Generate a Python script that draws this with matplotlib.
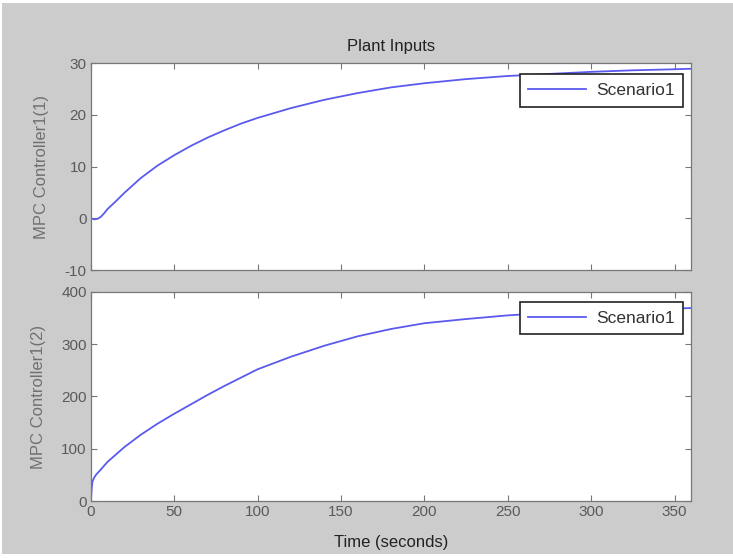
import matplotlib
matplotlib.use("Agg")
from matplotlib import pyplot as plt
from matplotlib.patches import Rectangle

# readings from the reference picture
t_top = [0, 2, 4, 6, 8, 10, 15, 20, 30, 40, 50, 60, 70, 80, 90, 100,
         120, 140, 160, 180, 200, 225, 250, 275, 300, 325, 350, 360]
u_top = [0, -0.2, -0.1, 0.3, 1.0, 1.8, 3.3, 4.9, 7.8, 10.2, 12.2, 14.0, 15.6, 17.0, 18.3, 19.4,
         21.3, 22.9, 24.2, 25.3, 26.1, 26.9, 27.5, 27.9, 28.3, 28.6, 28.8, 28.9]

t_bot = [0, 0.5, 1, 2, 3, 5, 10, 20, 30, 40, 50, 60, 70, 80, 90, 100,
         120, 140, 160, 180, 200, 225, 250, 275, 300, 325, 350, 360]
u_bot = [0, 25, 38, 45, 50, 57, 75, 103, 127, 148, 167, 185, 203, 220, 236, 252,
         276, 297, 315, 329, 340, 348, 355, 360, 364, 366, 368, 369]

x_ticks = [0, 50, 100, 150, 200, 250, 300, 350]
top_ticks = [-10, 0, 10, 20, 30]
bot_ticks = [0, 100, 200, 300, 400]

line_color = "#5a5aee"
gray_bg = "#cccccc"
tick_color = "#5a5a5a"

plt.rcParams['font.family'] = ['Liberation Sans', 'DejaVu Sans']
plt.rcParams['axes.unicode_minus'] = False

fig = plt.figure(figsize=(7.33, 5.58), dpi=100, facecolor="white")
# gray figure area with thin white margin like the screenshot
fig.patches.append(Rectangle((2 / 733, 4 / 558), 1 - 2 / 733, 1 - 7 / 558,
                             transform=fig.transFigure, facecolor=gray_bg,
                             edgecolor="none", zorder=-10))

ax1 = fig.add_axes([0.124, 0.516, 0.819, 0.371])
ax2 = fig.add_axes([0.124, 0.102, 0.819, 0.375])


def style_axes(ax, yticks, ylim):
    ax.set_facecolor("white")
    ax.set_xlim(0, 360)
    ax.set_ylim(*ylim)
    ax.set_xticks(x_ticks)
    ax.set_yticks(yticks)
    ax.tick_params(direction="in", top=True, right=True, length=4,
                   width=0.8, colors="#777777", labelcolor=tick_color,
                   labelsize=11, pad=3)
    for s in ax.spines.values():
        s.set_color("#777777")
        s.set_linewidth(0.9)


ax1.plot(t_top, u_top, color=line_color, lw=1.3, label="Scenario1")
style_axes(ax1, top_ticks, (-10, 30))
ax1.tick_params(labelbottom=False)
ax1.set_ylabel("MPC Controller1(1)", color="#707070", fontsize=12, labelpad=11)
ax1.set_title("Plant Inputs", fontsize=12, color="#222222", pad=9)

ax2.plot(t_bot, u_bot, color=line_color, lw=1.3, label="Scenario1")
style_axes(ax2, bot_ticks, (0, 400))
ax2.set_ylabel("MPC Controller1(2)", color="#707070", fontsize=12, labelpad=11)
ax2.set_xlabel("Time (seconds)", fontsize=12, color="#222222", labelpad=11)

for ax, ytop in ((ax1, 0.947), (ax2, 0.952)):
    leg = ax.legend(loc="upper right", bbox_to_anchor=(0.987, ytop),
                    fancybox=False, framealpha=1, edgecolor="#222222",
                    fontsize=12.5, handlelength=3.3, borderpad=0.5,
                    handletextpad=0.6, borderaxespad=0)
    leg.get_frame().set_linewidth(1.2)
    for txt in leg.get_texts():
        txt.set_color("#333333")

plt.savefig("out.png", dpi=100, facecolor=fig.get_facecolor())
